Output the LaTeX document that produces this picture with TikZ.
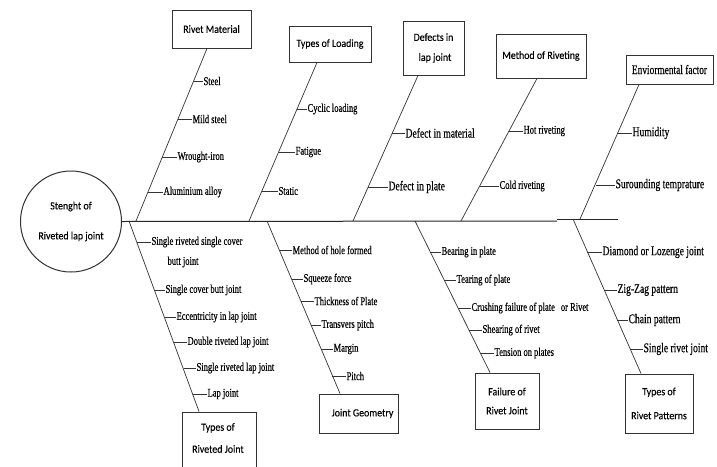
\documentclass[tikz,border=0pt]{standalone}
\usepackage{fontspec}
\setmainfont{Liberation Serif}
\newfontfamily\condserif[FakeStretch=0.72,FakeBold=0.35]{Liberation Serif}
\newfontfamily\boxfont[FakeStretch=0.9,FakeBold=0.2]{Carlito}
\usetikzlibrary{calc}
\tikzset{
  twig/.style={draw=black!80, line width=0.7pt},
  spine/.style={draw=black!85, line width=1pt},
  sml/.style={font=\condserif\fontsize{11.8}{13}\selectfont, text=black, inner sep=0.4pt, anchor=west},
  big/.style={font=\condserif\fontsize{13.3}{15}\selectfont, text=black, inner sep=0.4pt, anchor=west},
  catbox/.style={draw=black!80, line width=1pt, font=\boxfont\fontsize{11}{19}\selectfont, text=black, align=center, inner sep=0pt},
  cattext/.style={font=\boxfont\fontsize{11}{22}\selectfont, text=black, align=center, inner sep=0pt},
}
\newcommand\fbtick[6]{%
  \coordinate (#1p) at (#2,#3);
  \node[#5] (#1) at (#4,#3) {#6};
  \draw[twig] (#1p) -- (#1.west);}
\begin{document}
\begin{tikzpicture}[x=1pt,y={(0pt,-1pt)}]
\useasboundingbox (0,0) rectangle (717,466);
\fill[white] (0,0) rectangle (717,466);

% root
\node[circle, draw=black!80, line width=1pt, minimum size=101pt, inner sep=0pt,
      font=\boxfont\fontsize{11}{30}\selectfont, text=black, align=center] (root) at (71,221.5) {Stenght of\\Riveted lap joint};

% spine
\coordinate (spA) at (557,221);
\coordinate (spB) at (557,219);
\coordinate (spC) at (618,219);
\draw[spine] (root.east) -- (spA);
\draw[spine] (spB) -- (spC);

% category boxes
\node[catbox, minimum width=79pt, minimum height=38pt] (rm) at (211.5,29) {Rivet Material};
\node[catbox, minimum width=82pt, minimum height=36pt] (tl) at (330,44) {Types of Loading};
\node[catbox, minimum width=61pt, minimum height=54pt, font=\boxfont\fontsize{11}{20}\selectfont, align=left] (dl) at (433.5,48) {Defects in\\\hspace*{5pt}lap joint};
\node[catbox, minimum width=90pt, minimum height=44pt] (mr) at (541,56) {Method of Riveting};
\node[catbox, minimum width=87pt, minimum height=29pt, font=\condserif\fontsize{13}{15}\selectfont] (ef) at (669.5,69.5) {Enviormental factor};
\node[catbox, minimum width=74pt, minimum height=62pt] (trj) at (219,443) {};
\node[cattext] (trjt) at (218,438) {Types of\\Riveted Joint};
\node[catbox, minimum width=79pt, minimum height=39pt] (jg) at (358.5,413.5) {\hspace*{8pt}Joint Geometry};
\node[catbox, minimum width=64pt, minimum height=56pt] (fr) at (507,401) {Failure of\\Rivet Joint};
\node[catbox, minimum width=68pt, minimum height=59pt, font=\boxfont\fontsize{11}{24}\selectfont] (trp) at (659,403.5) {Types of\\Rivet Patterns};

% spine points
\coordinate (q1) at (136,221);
\coordinate (q2) at (249,221);
\coordinate (q3) at (353,221);
\coordinate (q4) at (461,221);
\coordinate (q5) at (580,219);
\coordinate (q6) at (129,221);
\coordinate (q7) at (267,221);
\coordinate (q8) at (415,221);
\coordinate (q9) at (573,219);

% bones
\draw[twig] ([xshift=-4.5pt]rm.south) -- (q1);
\draw[twig] ([xshift=-13pt]tl.south) -- (q2);
\draw[twig] ([xshift=-15.5pt]dl.south) -- (q3);
\draw[twig] ([xshift=-4pt]mr.south) -- (q4);
\draw[twig] ([xshift=-30.5pt]ef.south) -- (q5);
\draw[twig] (q6) -- ([xshift=-20pt]trj.north);
\draw[twig] (q7) -- ([xshift=-18.5pt]jg.north);
\draw[twig] (q8) -- ([xshift=-17pt]fr.north);
\draw[twig] (q9) -- ([xshift=-18pt]trp.north);

% Rivet Material
\fbtick{a1}{193.5}{81}{203}{sml}{Steel}
\fbtick{a2}{177.9}{119}{192}{sml}{Mild steel}
\fbtick{a3}{162.3}{157}{177}{sml}{Wrought-iron}
\fbtick{a4}{147.9}{192}{163}{sml}{Aluminium alloy}
% Types of Loading
\fbtick{b1}{296.9}{109}{307}{sml}{Cyclic loading}
\fbtick{b2}{278.5}{152}{295}{sml}{Fatigue}
\fbtick{b3}{261.8}{191}{278}{sml}{Static}
% Defects
\fbtick{c1}{392.2}{133}{405}{big}{Defect in material}
\fbtick{c2}{368.1}{187}{388}{big}{Defect in plate}
% Method of riveting
\fbtick{d1}{508.8}{131}{523}{sml}{Hot riveting}
\fbtick{d2}{479.6}{186}{499}{sml}{Cold riveting}
% Environmental
\fbtick{e1}{617.9}{133}{632}{big}{Humidity}
\fbtick{e2}{595.5}{185}{615}{big}{Surounding temprature}
% Types of riveted joint
\fbtick{f1}{136.8}{242}{151}{sml}{Single riveted single cover}
\node[sml] (f1b) at (167,262) {butt joint};
\fbtick{f2}{154.7}{290}{165}{sml}{Single cover butt joint}
\fbtick{f3}{164.7}{317}{176}{sml}{Eccentricity in lap joint}
\fbtick{f4}{174.0}{342}{187}{sml}{Double riveted lap joint}
\fbtick{f5}{183.7}{368}{196}{sml}{Single riveted lap joint}
\fbtick{f6}{193.4}{394}{207}{sml}{Lap joint}
% Joint geometry
\fbtick{g1}{279.2}{250}{292}{sml}{Method of hole formed}
\fbtick{g2}{291.5}{279}{303}{sml}{Squeeze force}
\fbtick{g3}{300.8}{301}{314}{sml}{Thickness of Plate}
\fbtick{g4}{310.9}{325}{321}{sml}{Transvers pitch}
\fbtick{g5}{321.0}{349}{333}{sml}{Margin}
\fbtick{g6}{332.4}{376}{346}{sml}{Pitch}
% Failure
\fbtick{h1}{430.4}{252}{441}{sml}{Bearing in plate}
\fbtick{h2}{444.3}{280}{456}{sml}{Tearing of plate}
\fbtick{h3}{458.2}{308}{471}{sml}{Crushing failure of plate\hspace{6pt}or Rivet}
\fbtick{h4}{469.1}{330}{482}{sml}{Shearing of rivet}
\fbtick{h5}{480.6}{353}{494}{sml}{Tension on plates}
% Rivet patterns
\fbtick{k1}{586.8}{252}{602}{big}{Diamond or Lozenge joint}
\fbtick{k2}{603.7}{290}{617}{big}{Zig-Zag pattern}
\fbtick{k3}{617.0}{320}{628}{big}{Chain pattern}
\fbtick{k4}{629.9}{349}{643}{big}{Single rivet joint}
\end{tikzpicture}
\end{document}
